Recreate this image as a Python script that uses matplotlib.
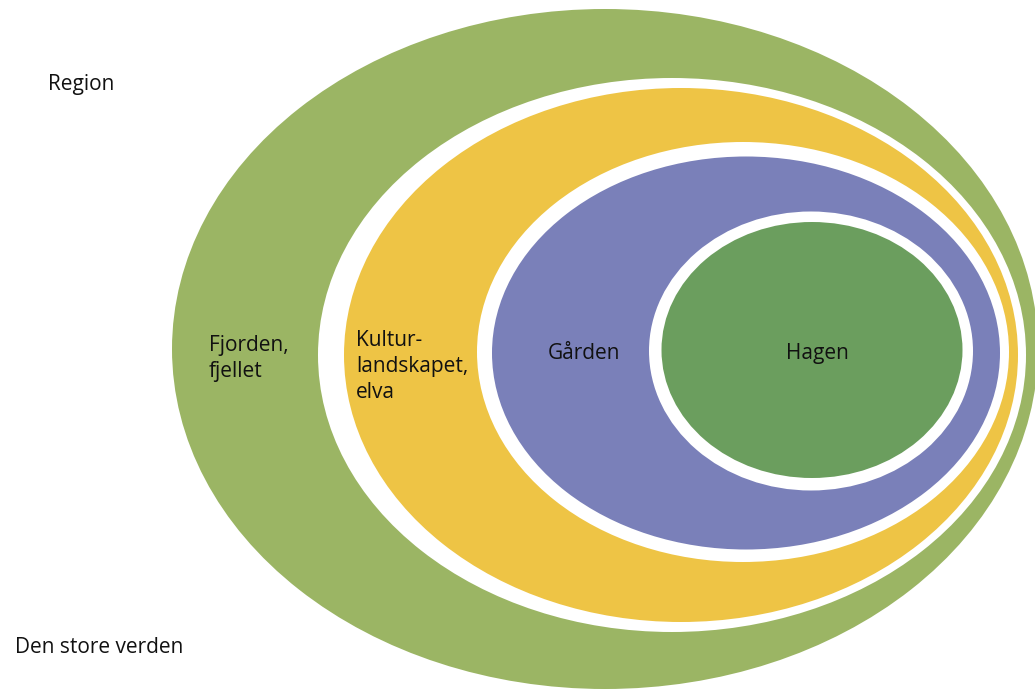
import matplotlib.pyplot as plt
from matplotlib.patches import Ellipse

# labels, from outermost ring to innermost
ring_labels = ["Fjorden,\nfjellet", "Kultur-\nlandskapet,\nelva", "Gården", "Hagen"]
side_labels = ["Region", "Den store verden"]

# ring geometry in pixel coords (cx, cy, w, h) and colours
ring_geom = [(605, 349, 866, 680), (681, 355, 674, 534), (746, 353, 508, 393), (812, 350, 301, 256)]
gap_geom = [None, (672, 355, 708, 554), (743, 352, 532, 420), (811, 351, 324, 279)]
ring_colors = ["#9bb564", "#eec445", "#7a80b9", "#6b9e5e"]
# baseline of the last line of each label
label_pos = [(209, 377), (356, 398), (548, 359), (786, 359)]

plt.rcParams['font.family'] = ['Open Sans', 'DejaVu Sans']

fig = plt.figure(figsize=(10.35, 6.91), dpi=100)
ax = fig.add_axes([0, 0, 1, 1])
ax.set_xlim(0, 1035)
ax.set_ylim(691, 0)
ax.axis("off")

for geom, gap, col in zip(ring_geom, gap_geom, ring_colors):
    if gap is not None:
        ax.add_patch(Ellipse(gap[:2], gap[2], gap[3], facecolor="white", edgecolor="none"))
    ax.add_patch(Ellipse(geom[:2], geom[2], geom[3], facecolor=col, edgecolor="none"))

for txt, (x, y) in zip(ring_labels, label_pos):
    ax.text(x, y, txt, ha="left", va="baseline", fontsize=15, color="#111111", linespacing=1.3)

ax.text(48, 90, side_labels[0], ha="left", va="baseline", fontsize=15, color="#111111")
ax.text(15, 653, side_labels[1], ha="left", va="baseline", fontsize=15, color="#111111")

fig.savefig("out.png", dpi=100)
